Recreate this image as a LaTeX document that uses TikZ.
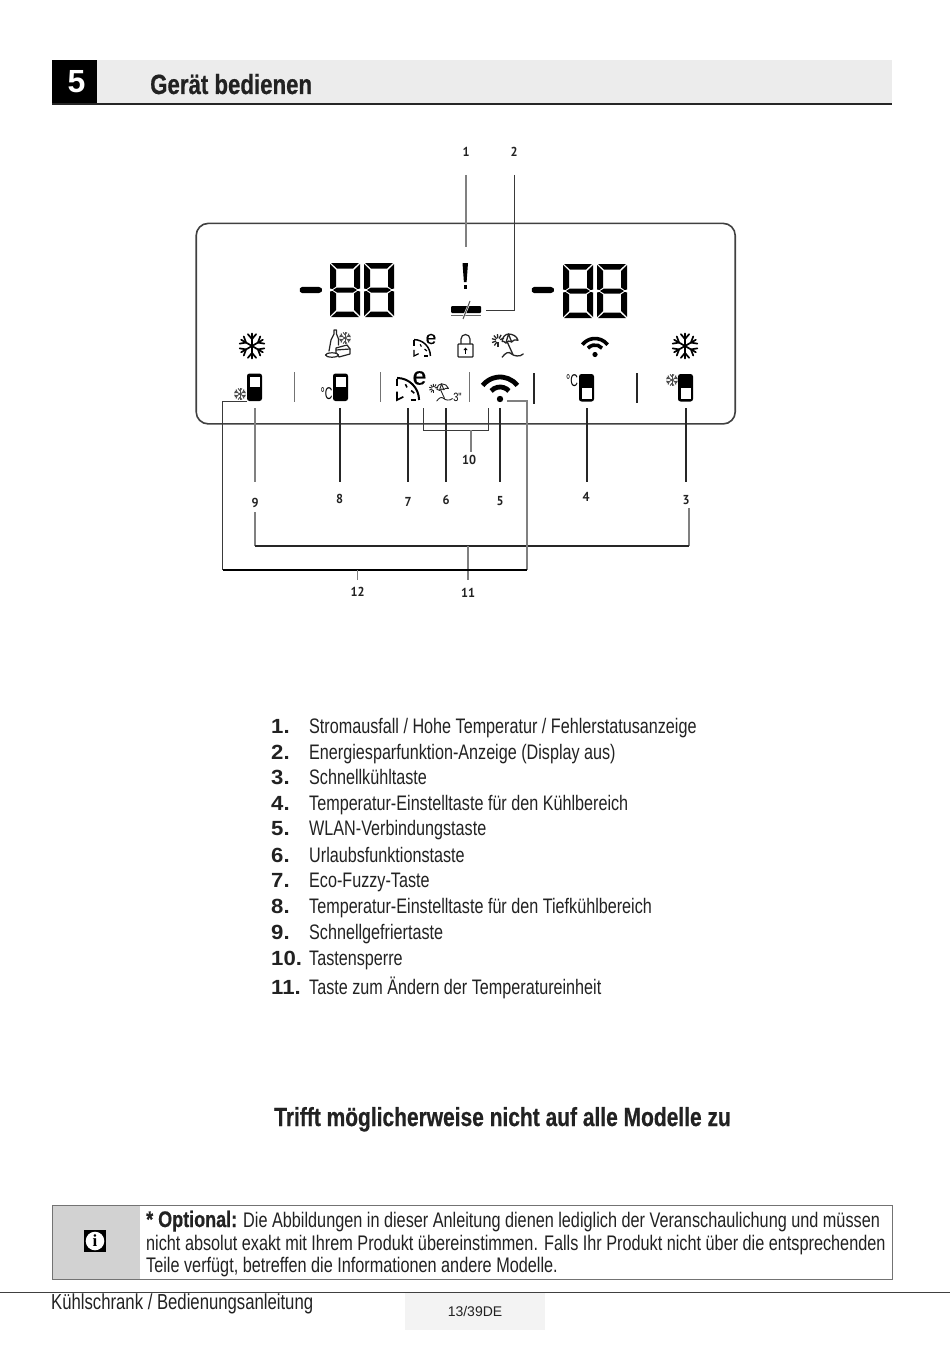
\documentclass[tikz,border=0pt]{standalone}
\usepackage{fontspec}
\setmainfont{Liberation Sans}
\newfontfamily\condfont[FakeStretch=0.77]{Liberation Sans}
\newfontfamily\headfont[FakeStretch=0.80,FakeBold=0.6]{Liberation Sans Bold}
\newfontfamily\thinfont[FakeStretch=0.62]{Liberation Sans}
\newfontfamily\ecofont[FakeBold=0.4]{Liberation Sans}
\newfontfamily\labfont[FakeStretch=0.95]{PT Sans Bold}
\newfontfamily\numfont[FakeStretch=1.08]{Liberation Sans}
\newfontfamily\ifont{Liberation Serif}
\usetikzlibrary{calc}
\definecolor{inkc}{HTML}{222222}
\definecolor{bandc}{HTML}{ECECEC}
\definecolor{infoc}{HTML}{D2D2D2}
\definecolor{pagec}{HTML}{F3F3F3}
\definecolor{leadc}{HTML}{3A3A3A}
\tikzset{
  leader/.style={draw=leadc,line width=1pt},
  heavyleader/.style={draw=black!85,line width=1.5pt},
  lightleader/.style={draw=black!50,line width=1.1pt},
  calllabel/.style={font=\labfont\fontsize{13}{15}\selectfont,text=inkc,inner sep=0pt},
  listnum/.style={anchor=base west,inner sep=0pt,font=\numfont\bfseries\fontsize{20.5}{24}\selectfont,text=inkc},
  listtext/.style={anchor=base west,inner sep=0pt,font=\condfont\fontsize{21}{24}\selectfont,text=inkc},
  boxtext/.style={anchor=base west,inner sep=0pt,font=\condfont\fontsize{21.1}{24}\selectfont,text=inkc},
  divider/.style={draw=black!55,line width=1pt},
  divheavy/.style={draw=black!85,line width=1.8pt},
  iconline/.style={draw=black!85,line width=1.2pt,line cap=round,line join=round},
}
\newcommand{\segdigit}[2]{\begin{scope}[shift={(#1,#2)}]
\fill[black] (1,0)--(29,0)--(23,5.5)--(7,5.5)--cycle;
\fill[black] (1,54)--(29,54)--(23,48.5)--(7,48.5)--cycle;
\fill[black] (3,27)--(7,24.5)--(23,24.5)--(27,27)--(23,29.5)--(7,29.5)--cycle;
\fill[black] (0,1)--(6,7)--(6,23.5)--(2.5,26)--(0,25.5)--cycle;
\fill[black] (30,1)--(24,7)--(24,23.5)--(27.5,26)--(30,25.5)--cycle;
\fill[black] (0,53)--(6,47)--(6,30.5)--(2.5,28)--(0,28.5)--cycle;
\fill[black] (30,53)--(24,47)--(24,30.5)--(27.5,28)--(30,28.5)--cycle;
\end{scope}}
\newcommand{\segdash}[2]{\fill[black,rounded corners=1.5pt] (#1,#2-3.2)--(#1+19,#2-3.2)--(#1+22,#2)--(#1+19,#2+3.2)--(#1,#2+3.2)--(#1-2,#2)--cycle;}
\newcommand{\flake}[4]{\begin{scope}[shift={(#1,#2)}]
\foreach \a in {30,90,150,210,270,330}{
\begin{scope}[rotate=\a]
\draw[black,line width=#4,line cap=round] (0,0)--(#3,0);
\draw[black,line width=#4,line cap=round] (0.55*#3,0)--(0.95*#3,0.33*#3);
\draw[black,line width=#4,line cap=round] (0.55*#3,0)--(0.95*#3,-0.33*#3);
\end{scope}}
\end{scope}}
\newcommand{\smallflake}[2]{\begin{scope}[shift={(#1,#2)}]
\foreach \a in {30,90,150,210,270,330}{
\begin{scope}[rotate=\a]
\draw[black!70,line width=0.9pt] (0,0)--(6,0);
\draw[black!70,line width=0.9pt] (3.2,0)--(5.6,1.9);
\draw[black!70,line width=0.9pt] (3.2,0)--(5.6,-1.9);
\end{scope}}
\end{scope}}
\newcommand{\fridgeA}[2]{\begin{scope}[shift={(#1,#2)}]
\fill[black,rounded corners=2.5pt] (0,0) rectangle (15,27.5);
\fill[white] (2.5,3) rectangle (12.5,13.5);
\end{scope}}
\newcommand{\fridgeB}[2]{\begin{scope}[shift={(#1,#2)}]
\fill[black,rounded corners=2.5pt] (0,0) rectangle (15,27.5);
\fill[white] (2.5,13.5) rectangle (12.5,24.5);
\end{scope}}
\newcommand{\wifi}[6]{\begin{scope}[shift={(#1,#2)}]
\fill[black] (0,0) circle (#5);
\draw[black,line width=#6] (-38:#4) arc[start angle=-38,end angle=-142,radius=#4];
\draw[black,line width=#6] (-42:#3) arc[start angle=-42,end angle=-138,radius=#3];
\end{scope}}
% eco gauge; origin = bottom-left corner of the gauge
\newcommand{\gauge}[3]{\begin{scope}[shift={(#1,#2)},scale=#3]
\draw[black,line width=#3*1.9pt] (0,-21) arc[start angle=-90,end angle=0,radius=21];
\draw[black,line width=#3*1.5pt] (0,-20)--(0,-13);
\draw[black,line width=#3*1.5pt] (0,-8)--(0,0)--(6,-3);
\draw[black,line width=#3*1.5pt] (8,-15)--(9.5,-12);
\draw[black,line width=#3*1.5pt] (13.5,-9)--(16.5,-6.5);
\draw[black,line width=#3*1.5pt] (13,0)--(18,0);
\end{scope}}
% beach icon; origin = top-left of a 30x24 box
\newcommand{\beach}[4]{\begin{scope}[shift={(#1,#2)},scale=#3]
\draw[black!85,line width=#4,line cap=round,line join=round] (10,8) .. controls (10,4) and (13,1) .. (16,1) .. controls (20,1) and (24,3) .. (25,7) .. controls (22,6) and (20,7) .. (19,8.5) .. controls (17,7) and (15,7.5) .. (13.5,9.5) .. controls (12.5,8) and (11,8) .. (10,8) -- cycle;
\draw[black!85,line width=#4,line cap=round,line join=round] (16,1)--(19,8.5) (16,1)--(13.5,9.5);
\draw[black!85,line width=#4,line cap=round] (15,9)--(20,20);
\draw[black!85,line width=#4,line cap=round] (10,23) .. controls (13,19) and (16,17) .. (19,20) .. controls (21,22) and (27,23) .. (30,20);
\foreach \a in {90,125,160,195,230,265,300,340}{\draw[black!85,line width=#4] ($(6,7)+(\a:2)$)--($(6,7)+(\a:6)$);}
\end{scope}}
\begin{document}
\begin{tikzpicture}[x=1pt,y=-1pt]
\useasboundingbox (0,0) rectangle (950,1348);
\fill[white] (0,0) rectangle (950,1348);
% header
\fill[bandc] (52,60) rectangle (892,104);
\fill[black] (52,60) rectangle (97,104);
\draw[black!85,line width=2pt] (52,104)--(892,104);
\node[inner sep=0pt,text=white,font=\bfseries\fontsize{32}{36}\selectfont] (secno) at (76.5,82) {5};
\node[anchor=base west,inner sep=0pt,text=inkc,font=\headfont\fontsize{27.8}{30}\selectfont] (title) at (150,94) {Gerät bedienen};
% panel
\node[draw=black!75,line width=1.6pt,rounded corners=12pt,minimum width=539pt,minimum height=200.5pt,inner sep=0pt,anchor=north west] (panel) at (195.4,222.6) {};
% digits
\segdash{301}{290}\segdigit{330}{263}\segdigit{364}{263}
\segdash{533}{290}\segdigit{563}{264}\segdigit{597}{264}
% warning mark
\fill[black] (462.5,263)--(468,263)--(466.6,282)--(463.9,282)--cycle;
\fill[black] (463.5,285)rectangle(467,288.5);
% energy bar
\fill[black,rounded corners=1pt] (451,306) rectangle (481,313);
\draw[black!60,line width=1pt] (451,315)--(481,315);
\draw[white,line width=2pt] (464,316)--(469,304);
\draw[black!70,line width=1pt] (463,319)--(470,301);
% top icon row
\flake{252}{346}{12.5}{1.7pt}
\flake{685}{346}{12.5}{1.7pt}
\smallflake{345}{338}
% bottle & food
\draw[iconline] (334,334)--(334,330)--(336.5,330)--(336.5,334)--(338.5,339)--(338.5,345) (334,334)--(331,340)--(329,351);
\draw[iconline,fill=white] (336,348)--(347,345)--(350,349)--(350,354)--(339,357)--(336,353)--cycle;
\draw[iconline] (336,350)--(350,349);
\draw[iconline,fill=white] (332,355) ellipse (6.5 and 2.2);
\gauge{414}{356}{0.78}
\node[inner sep=0pt,text=black,font=\ecofont\fontsize{19}{20}\selectfont] (ecoA) at (431,339) {e};
% lock
\draw[black!85,line width=1.2pt] (461,344)--(461,339) arc[start angle=180,end angle=360,radius=4.5] --(470,344);
\draw[black!85,line width=1.2pt,rounded corners=0.8pt] (458,344) rectangle (473,357);
\draw[black,line width=1.2pt] (465.5,353.5)--(465.5,348.5);
\fill[black] (463.5,350)--(465.5,347.5)--(467.5,350)--cycle;
\beach{491.7}{333}{1.05}{1.3pt}
\wifi{595}{354.5}{9.5}{16}{2.6}{3.6pt}
% bottom icon row
\smallflake{240}{394}
\fridgeA{247}{373.5}
\node[inner sep=0pt,text=black,font=\thinfont\fontsize{17}{18}\selectfont] (cA) at (326.5,394) {°C};
\fridgeA{333}{373.5}
\draw[divider] (294,372)--(294,402);
\draw[divider] (380,372)--(380,402);
\draw[divider] (469,372)--(469,402);
\draw[divheavy] (534,373)--(534,404);
\draw[divheavy] (637,373)--(637,403);
\gauge{397}{400}{1.05}
\node[inner sep=0pt,text=black,font=\ecofont\fontsize{25}{25}\selectfont] (ecoB) at (419.5,378) {e};
\beach{429}{383}{0.78}{0.9pt}
\node[inner sep=0pt,text=black,font=\condfont\fontsize{12}{12}\selectfont] (threeS) at (457.5,397) {3"};
\wifi{500}{399}{12}{22}{3.2}{4.8pt}
\node[inner sep=0pt,text=black,font=\thinfont\fontsize{17}{18}\selectfont] (cB) at (572,381) {°C};
\fridgeB{579}{374}
\smallflake{672}{380}
\fridgeB{678}{374}
% callout labels
\node[calllabel] (n1) at (466,152) {1};
\node[calllabel] (n2) at (514,152) {2};
\node[calllabel] (n3) at (686,500) {3};
\node[calllabel] (n4) at (586,497) {4};
\node[calllabel] (n5) at (500,501) {5};
\node[calllabel] (n6) at (446,500) {6};
\node[calllabel] (n7) at (408,502) {7};
\node[calllabel] (n8) at (339.5,499) {8};
\node[calllabel] (n9) at (255,503) {9};
\node[calllabel] (n10) at (469,460) {10};
\node[calllabel] (n11) at (468,593) {11};
\node[calllabel] (n12) at (357.5,592) {12};
% leader ends
\coordinate (a1) at (466,175); \coordinate (b1) at (466,247);
\coordinate (a2) at (514,175); \coordinate (m2) at (514,310); \coordinate (b2) at (486,310);
\foreach \nm/\xx in {3/686,4/587,5/500,6/446,7/408,8/340}{
\coordinate (t\nm) at (\xx,408); \coordinate (u\nm) at (\xx,482);
\draw[heavyleader] (t\nm)--(u\nm);}
\coordinate (t9) at (255,408); \coordinate (u9) at (255,482);
\draw[lightleader] (t9)--(u9);
\draw[lightleader] (a1)--(b1);
\draw[leader] (a2)--(m2)--(b2);
% bracket 10
\coordinate (c10a) at (423,408); \coordinate (c10b) at (423,430); \coordinate (c10c) at (488.5,430); \coordinate (c10d) at (488.5,408); \coordinate (c10e) at (471,430); \coordinate (c10f) at (471,452);
\draw[leader] (c10a)--(c10b)--(c10c)--(c10d);
\draw[lightleader] (c10e)--(c10f);
% bracket 11
\coordinate (c11a) at (255,512); \coordinate (c11b) at (255,546); \coordinate (c11c) at (689,546); \coordinate (c11d) at (689,508); \coordinate (c11e) at (468,546); \coordinate (c11f) at (468,580);
\draw[lightleader] (c11a)--(c11b);
\draw[lightleader] (c11d)--(c11c);
\draw[heavyleader,line width=1.3pt] (c11b)--(c11c);
\draw[lightleader] (c11e)--(c11f);
% bracket 12
\coordinate (c12a) at (247,401); \coordinate (c12b) at (222.5,401); \coordinate (c12c) at (222.5,570); \coordinate (c12d) at (527,570); \coordinate (c12e) at (527,401); \coordinate (c12f) at (507,401); \coordinate (c12g) at (357.5,570); \coordinate (c12h) at (357.5,580);
\draw[leader] (c12a)--(c12b)--(c12c);
\draw[lightleader] (c12f)--(c12e)--(c12d);
\draw[black,line width=2.2pt] (c12c)--(c12d);
\draw[lightleader] (c12g)--(c12h);
% list
\foreach \nn/\yy/\tt in {1/733/{Stromausfall / Hohe Temperatur / Fehlerstatusanzeige},
2/759/{Energiesparfunktion-Anzeige (Display aus)},
3/784/{Schnellkühltaste},
4/810/{Temperatur-Einstelltaste für den Kühlbereich},
5/835/{WLAN-Verbindungstaste},
6/862/{Urlaubsfunktionstaste},
7/887/{Eco-Fuzzy-Taste},
8/913/{Temperatur-Einstelltaste für den Tiefkühlbereich},
9/939/{Schnellgefriertaste},
10/965/{Tastensperre},
11/994/{Taste zum Ändern der Temperatureinheit}}{
\node[listnum] (ln\nn) at (271,\yy) {\nn.};
\node[listtext] (lt\nn) at (309,\yy) {\tt};
}
\node[inner sep=0pt,text=inkc,anchor=base,font=\headfont\fontsize{26.2}{28}\selectfont] (note) at (502.5,1126) {Trifft möglicherweise nicht auf alle Modelle zu};
% info box
\fill[infoc] (52,1205) rectangle (140,1279);
\draw[black!55,line width=1pt] (52,1205) rectangle (892,1279);
\fill[black] (84,1230) rectangle (106,1252);
\fill[white] (95,1241) circle (9.3);
\node[inner sep=0pt,text=black,font=\ifont\bfseries\fontsize{17}{18}\selectfont] (infoi) at (95,1241) {i};
\node[boxtext] (b1t) at (146,1227) {{\headfont\fontsize{22.5}{24}\selectfont * Optional:} Die Abbildungen in dieser Anleitung dienen lediglich der Veranschaulichung und müssen};
\node[boxtext] (b2t) at (146,1250) {nicht absolut exakt mit Ihrem Produkt übereinstimmen. Falls Ihr Produkt nicht über die entsprechenden};
\node[boxtext] (b3t) at (146,1272) {Teile verfügt, betreffen die Informationen andere Modelle.};
% footer
\fill[pagec] (405,1292) rectangle (545,1330);
\draw[black!75,line width=1pt] (0,1292)--(950,1292);
\node[boxtext,font=\condfont\fontsize{21.7}{24}\selectfont] (foot) at (51,1309) {Kühlschrank / Bedienungsanleitung};
\node[inner sep=0pt,text=inkc,font=\fontsize{14}{16}\selectfont] (pageno) at (475,1311) {13/39DE};
\end{tikzpicture}
\end{document}
